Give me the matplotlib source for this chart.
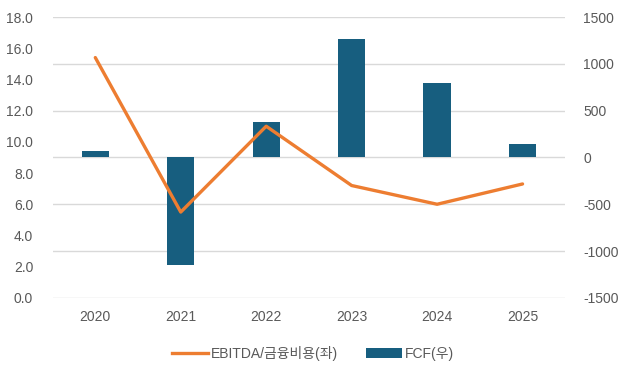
import numpy as np
import matplotlib.pyplot as plt
from matplotlib.patches import Patch
from matplotlib.lines import Line2D

plt.rcParams['font.family'] = ['Liberation Sans', 'Noto Sans CJK KR', 'DejaVu Sans']
plt.rcParams['axes.unicode_minus'] = False

years = ['2020', '2021', '2022', '2023', '2024', '2025']
ebitda_ratio = [15.4, 5.5, 11.0, 7.2, 6.0, 7.3]
fcf = [70, -1150, 380, 1265, 800, 145]

line_color = '#ED7D31'
bar_color = '#175E7F'
text_color = '#595959'

fig = plt.figure(figsize=(6.26, 3.78), dpi=100)
ax = fig.add_axes([0.084, 0.212, 0.819, 0.743])
ax2 = ax.twinx()

x = np.arange(len(years))
ax2.bar(x, fcf, width=0.32, color=bar_color, zorder=2)
ax.plot(x, ebitda_ratio, color=line_color, lw=2.4, solid_capstyle='round', zorder=3)

# line above bars
ax.set_zorder(ax2.get_zorder() + 1)
ax.patch.set_visible(False)

ax.set_ylim(0, 18)
ax.set_yticks(np.arange(0, 18.1, 2))
ax.set_yticklabels(['%.1f' % v for v in np.arange(0, 18.1, 2)])
ax2.set_ylim(-1500, 1500)
ax2.set_yticks(np.arange(-1500, 1501, 500))
ax.set_xlim(-0.5, 5.5)
ax.set_xticks(x)
ax.set_xticklabels(years)

ax2.grid(axis='y', color='#D9D9D9', lw=1, zorder=0)
ax2.set_axisbelow(True)

for a in (ax, ax2):
    for s in a.spines.values():
        s.set_visible(False)
    a.tick_params(length=0, labelsize=10, colors=text_color)
ax.tick_params(axis='x', pad=9)
ax.tick_params(axis='y', pad=14)
ax2.tick_params(axis='y', pad=13)

handles = [Line2D([0], [0], color=line_color, lw=2.4),
           Patch(facecolor=bar_color)]
fig.legend(handles, ['EBITDA/금융비용(좌)', 'FCF(우)'], loc='center',
           bbox_to_anchor=(0.5, 0.065), ncol=2, frameon=False, fontsize=10,
           labelcolor=text_color, handlelength=2.6, handletextpad=0.2,
           columnspacing=2.0)

fig.savefig('out.png', dpi=100)
